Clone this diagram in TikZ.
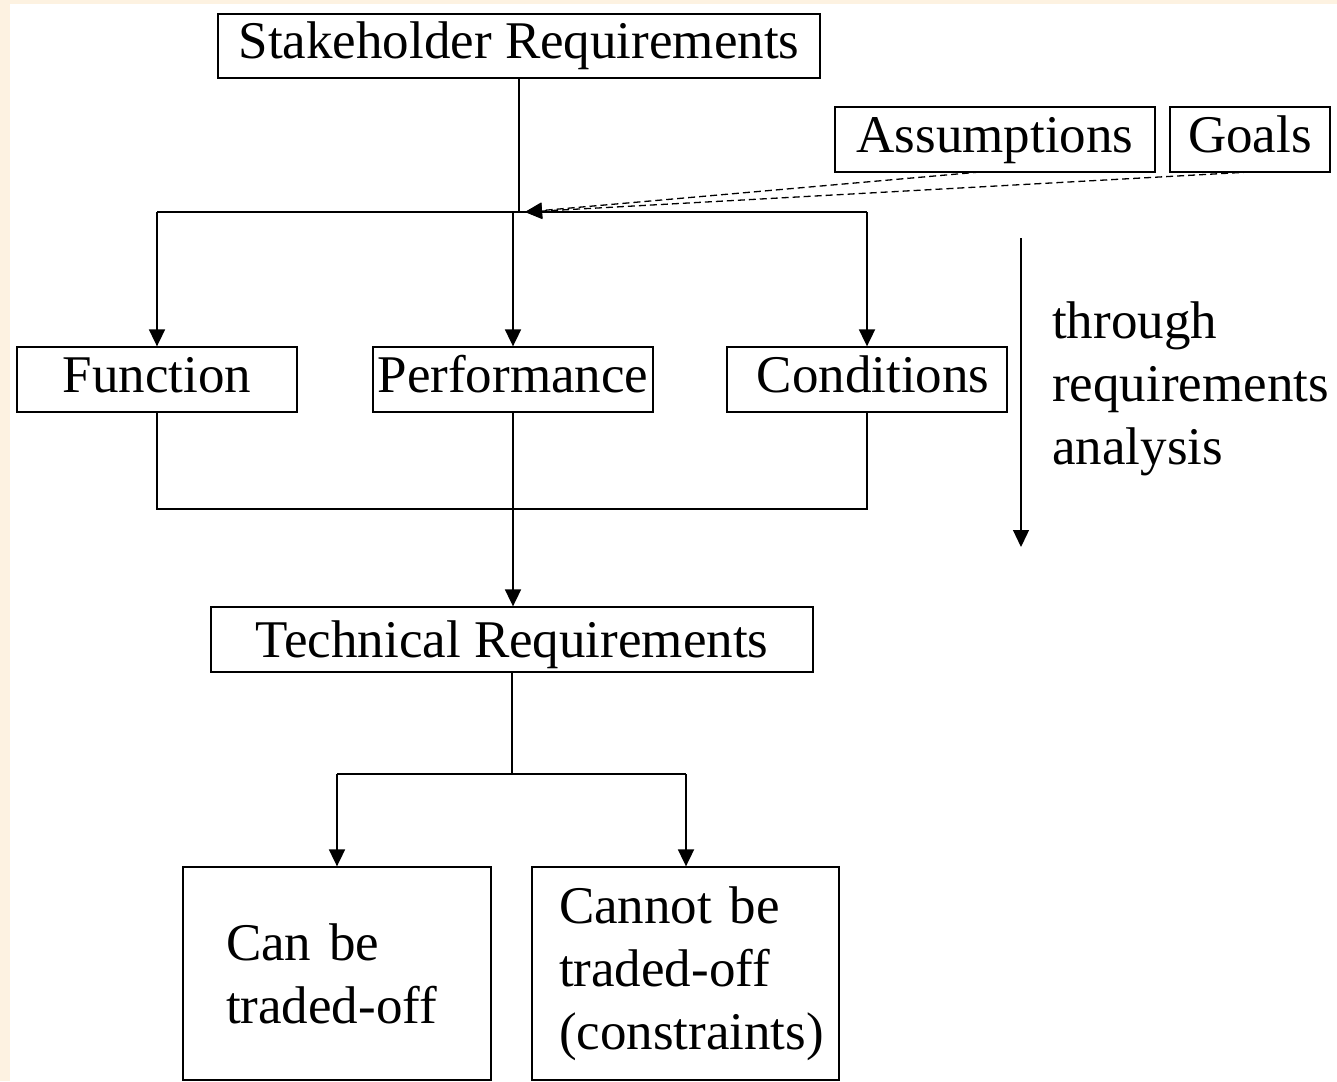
\documentclass[tikz,border=0pt]{standalone}
\usepackage{fontspec}
\setmainfont{Liberation Serif}
\usetikzlibrary{arrows.meta}
\definecolor{cream}{RGB}{253,242,225}
\begin{document}
\begin{tikzpicture}[x=1pt,y=-1pt,
  box/.style={draw,line width=1.3pt,inner sep=0pt,font=\fontsize{53}{63}\selectfont},
  onebox/.style={box,text height=37pt,text depth=12pt},
  txt/.style={inner sep=0pt,font=\fontsize{53}{63}\selectfont},
  ln/.style={line width=1.8pt},
  arr/.style={ln,-{Triangle[length=17pt,width=16pt]}},
  darr/.style={line width=1.3pt,dash pattern=on 7pt off 4pt,-{Triangle[length=17pt,width=16pt]}}]
\useasboundingbox (0,0) rectangle (1337,1081);
\fill[cream] (0,0) rectangle (1337,1081);
\fill[white] (10,4) rectangle (1337,1081);
% boxes
\node[onebox,minimum width=602pt,minimum height=64pt] (stake) at (519,46) {Stakeholder Requirements};
\node[onebox,minimum width=320pt,minimum height=65pt] (assum) at (995,139.5) {Assumptions};
\node[onebox,minimum width=160pt,minimum height=65pt] (goals) at (1250,139.5) {Goals};
\node[onebox,minimum width=280pt,minimum height=65pt] (func) at (157,379.5) {Function};
\node[onebox,minimum width=280pt,minimum height=65pt] (perf) at (513,379.5) {Performance};
\node[onebox,minimum width=280pt,minimum height=65pt] (cond) at (867,379.5) {\hspace*{12pt}Conditions};
\node[onebox,minimum width=602pt,minimum height=65pt] (tech) at (512,639.5) {\raisebox{-5pt}{Technical Requirements}};
\node[box,minimum width=308pt,minimum height=213pt,text width=222pt,align=left,inner xsep=43pt] (can) at (337,973.5) {Can be\\traded-off};
\node[box,minimum width=307pt,minimum height=213pt,text width=280pt,align=left,inner xsep=13.5pt] (cannot) at (685.5,973.5) {\hspace*{13.5pt}Cannot be\\\hspace*{13.5pt}traded-off\\\hspace*{13.5pt}(constraints)};
\node[txt,align=left,anchor=west] (thr) at (1052,389) {through\\requirements\\analysis};
% junction coordinates
\coordinate (j1) at (519,212);
\coordinate (jL) at (157,212);
\coordinate (jM) at (513,212);
\coordinate (jR) at (867,212);
\coordinate (tip) at (525,212);
\coordinate (k1) at (157,509);
\coordinate (kM) at (513,509);
\coordinate (k2) at (867,509);
\coordinate (m1) at (512,774);
\coordinate (mL) at (337,774);
\coordinate (mR) at (686,774);
\coordinate (as) at (980,172);
\coordinate (gs) at (1250,172);
\coordinate (v1) at (1021,238);
\coordinate (v2) at (1021,547);
% connectors
\draw[ln] (stake.south -| j1) -- (j1);
\draw[ln] (jL) -- (jR);
\draw[arr] (jL) -- (func.north);
\draw[arr] (jM) -- (perf.north);
\draw[arr] (jR) -- (cond.north);
\draw[darr] (as) -- (tip);
\draw[darr] (gs) -- (tip);
\draw[ln] (func.south) -- (k1) -- (k2) -- (cond.south);
\draw[ln] (perf.south) -- (kM);
\draw[arr] (kM |- k1) -- (tech.north -| kM);
\draw[ln] (tech.south -| m1) -- (m1);
\draw[ln] (mL) -- (mR);
\draw[arr] (mL) -- (can.north);
\draw[arr] (mR) -- (cannot.north -| mR);
\draw[arr,line width=1.3pt] (v1) -- (v2);
\end{tikzpicture}
\end{document}
